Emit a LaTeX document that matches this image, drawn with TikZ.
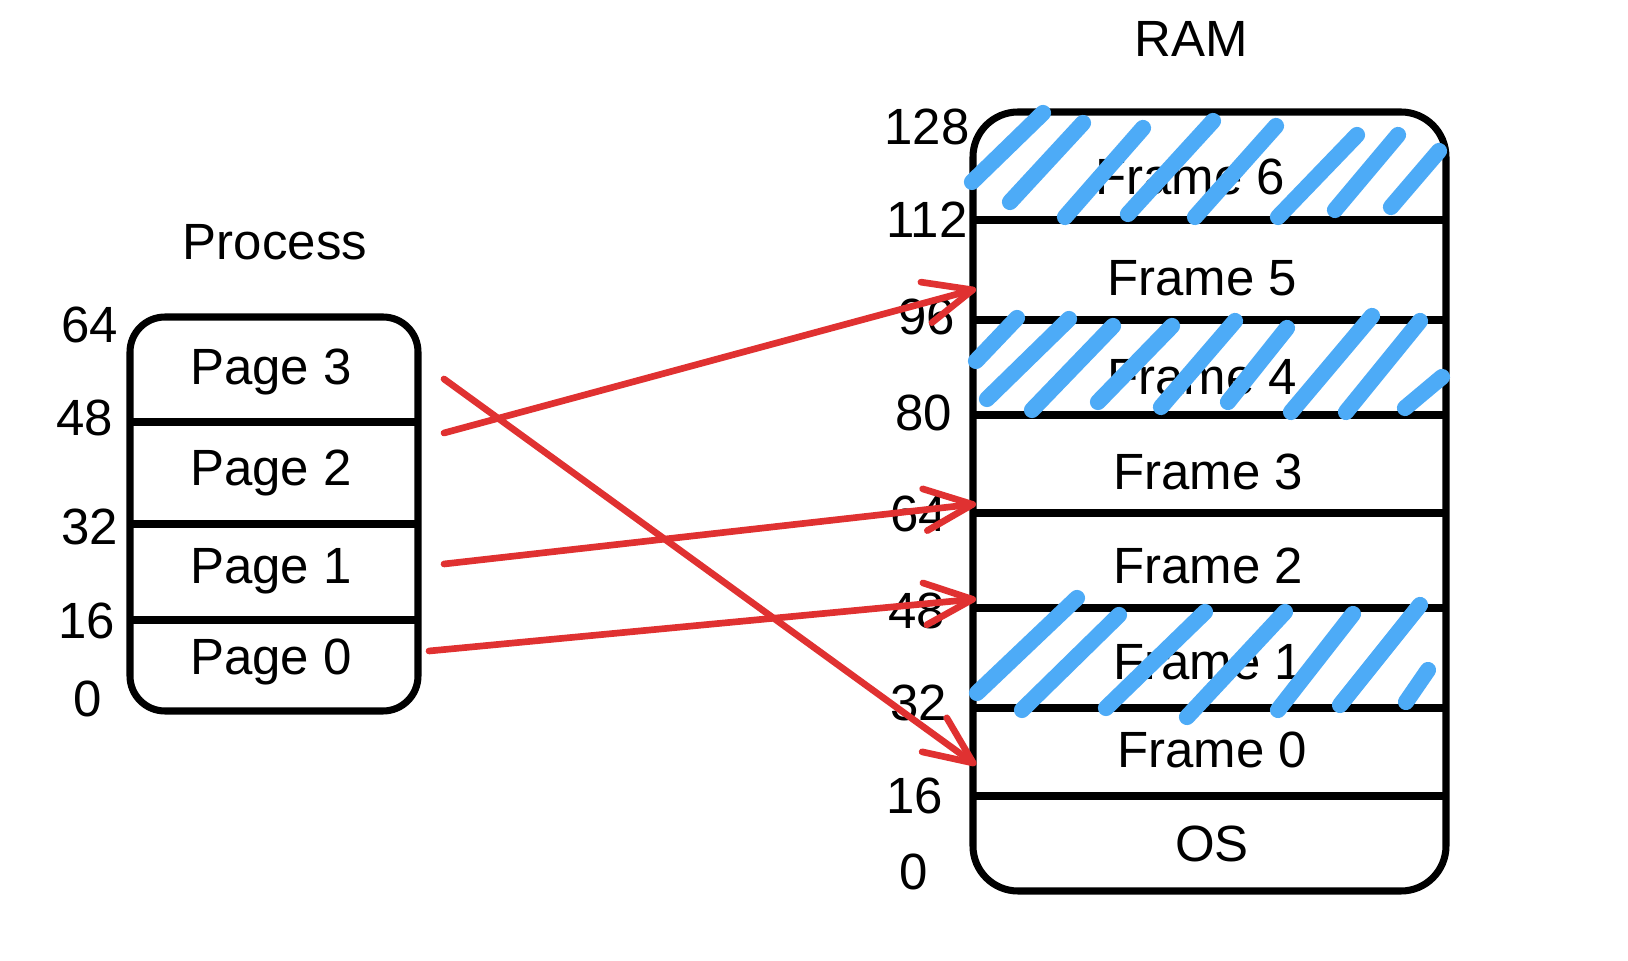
\documentclass[tikz,border=0pt]{standalone}
\usepackage{fontspec}
\setmainfont{Liberation Sans}
\usetikzlibrary{arrows.meta}
\definecolor{hatchblue}{HTML}{4DABF7}
\definecolor{mapred}{HTML}{E03131}

\begin{document}
\begin{tikzpicture}[x=0.1mm, y=-0.1mm, line width=2pt,
    lbl/.style={font=\fontsize{14.5}{17}\selectfont},
    hatch/.style={hatchblue, line width=4.6pt, line cap=round},
    map/.style={mapred, line width=1.9pt, line cap=round,
                -{Straight Barb[length=4.8mm,width=4.2mm,round]}}]
  \fill[white] (0,0) rectangle (1628,961);
  \useasboundingbox (0,0) rectangle (1628,961);

  % process
  \node[lbl] (proc) at (275,242) {Process};
  \draw[rounded corners=3.5mm] (130,317) rectangle (418,711);
  \foreach \y in {422,524,620} \draw (130,\y) -- (418,\y);
  \foreach \n/\y in {3/372,2/473,1/571,0/662}
    \node[lbl] (page\n) at (271,\y) {Page \n};
  \foreach \v/\x/\y in {64/90/325, 48/85/418, 32/90/527, 16/87/621, 0/88/699}
    \node[lbl] (pa\v) at (\x,\y) {\v};

  % ram
  \node[lbl] (ram) at (1191,39) {RAM};
  \draw[rounded corners=4.5mm] (973,112) rectangle (1446,891);
  \foreach \y in {220,320,415,513,608,708,796} \draw (973,\y) -- (1446,\y);
  \foreach \n/\x/\y in {6/1190/177, 5/1202/278, 4/1202/377, 3/1208/472,
                        2/1208/566, 1/1208/662, 0/1212/750}
    \node[lbl] (fr\n) at (\x,\y) {Frame \n};
  \node[lbl] (os) at (1212,844) {OS};
  \foreach \v/\x/\y in {128/927/127, 112/927/220, 96/927/317, 80/924/413, 64/919/514,
                        48/917/611, 32/919/703, 16/915/796, 0/914/872}
    \node[lbl] (ra\v) at (\x,\y) {\v};

  % used frames
  \foreach \a/\b/\c/\d in {972/182/1043/113, 1010/202/1083/123, 1065/217/1143/128,
                           1128/214/1213/121, 1195/217/1276/126, 1278/217/1357/135,
                           1335/210/1398/135, 1391/207/1439/151,
                           976/361/1017/318, 987/399/1069/319, 1032/410/1113/326,
                           1098/402/1172/326, 1161/407/1235/321, 1228/402/1287/328,
                           1291/412/1372/316, 1346/412/1420/321, 1405/408/1442/377,
                           977/693/1077/598, 1022/710/1119/615, 1106/708/1205/612,
                           1187/717/1285/612, 1278/710/1353/614, 1340/705/1420/605,
                           1406/702/1428/670}
    \draw[hatch] (\a,\b) -- (\c,\d);

  % page table
  \coordinate (p3out) at (444,379);
  \coordinate (p2out) at (444,433);
  \coordinate (p1out) at (444,564);
  \coordinate (p0out) at (429,651);
  \coordinate (f0in) at (976,765);
  \coordinate (f5in) at (976,289);
  \coordinate (f3in) at (976,504);
  \coordinate (f2in) at (976,599);
  \draw[map] (p3out) -- (f0in);
  \draw[map] (p2out) -- (f5in);
  \draw[map] (p1out) -- (f3in);
  \draw[map] (p0out) -- (f2in);
\end{tikzpicture}
\end{document}
